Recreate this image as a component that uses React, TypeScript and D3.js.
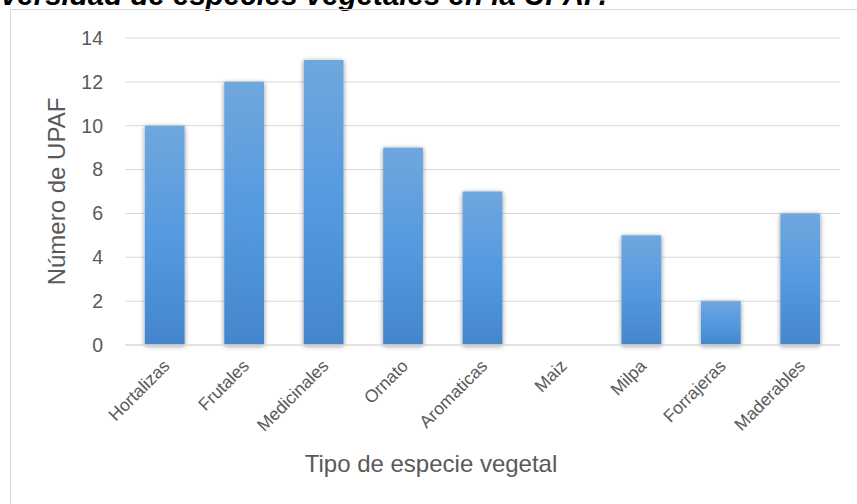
import React from "react";
import * as d3 from "d3";

const categories = ["Hortalizas", "Frutales", "Medicinales", "Ornato", "Aromaticas", "Maiz", "Milpa", "Forrajeras", "Maderables"];
const values = [10, 12, 13, 9, 7, 0, 5, 2, 6];
const yTicks = [0, 2, 4, 6, 8, 10, 12, 14];

const W = 857, H = 504;
const m = { left: 125, right: 17, top: 38, bottom: 159 };

export default function App() {
  const x = d3.scaleBand<string>().domain(categories).range([m.left, W - m.right]).paddingInner(0.5).paddingOuter(0.25);
  const y = d3.scaleLinear().domain([0, 14]).range([H - m.bottom, m.top]);
  const font = "Arial, 'Liberation Sans', sans-serif";
  return (
    <svg width={W} height={H} style={{ position: "absolute", left: 0, top: 0 }} fontFamily={font}>
      <defs>
        <linearGradient id="bg" x1="0" y1="0" x2="0" y2="1">
          <stop offset="0" stopColor="#6fa7dd" />
          <stop offset="0.5" stopColor="#559ae0" />
          <stop offset="1" stopColor="#4486cb" />
        </linearGradient>
        <filter id="sh" x="-30%" y="-10%" width="160%" height="120%">
          <feGaussianBlur in="SourceAlpha" stdDeviation="2.5" />
          <feOffset dx="0" dy="1" result="b" />
          <feComponentTransfer><feFuncA type="linear" slope="0.45" /></feComponentTransfer>
          <feMerge><feMergeNode /><feMergeNode in="SourceGraphic" /></feMerge>
        </filter>
      </defs>
      <rect x={0} y={0} width={W} height={H} fill="#fff" />
      <text x={607} y={5} textAnchor="end" fontSize={29.5} fontWeight="bold" fontStyle="italic" fill="#000">Diversidad de especies vegetales en la UPAF.</text>
      <rect x={10.5} y={9.5} width={900} height={600} fill="none" stroke="#d9d9d9" />
      {yTicks.map(t => (
        <g key={t}>
          {t > 0 && <line x1={m.left} x2={W - m.right} y1={y(t)} y2={y(t)} stroke="#d9d9d9" strokeWidth={1} />}
          <text x={103} y={y(t)} dy="0.35em" textAnchor="end" fontSize={19.5} fill="#595959">{t}</text>
        </g>
      ))}
      {categories.map((c, i) => values[i] > 0 && (
        <rect key={c} x={x(c)} y={y(values[i])} width={x.bandwidth()} height={y(0) - y(values[i])} fill="url(#bg)" filter="url(#sh)" />
      ))}
      <line x1={m.left} x2={W - m.right} y1={y(0)} y2={y(0)} stroke="#d9d9d9" strokeWidth={1.5} />
      {categories.map(c => {
        const cx = (x(c) as number) + x.bandwidth() / 2 + 6;
        return (
          <text key={c} transform={`translate(${cx},${y(0) + 22}) rotate(-45)`} textAnchor="end" fontSize={17.5} fill="#595959">{c}</text>
        );
      })}
      <text transform={`translate(65,${(y(0) + y(14)) / 2}) rotate(-90)`} textAnchor="middle" fontSize={24} fill="#595959">Número de UPAF</text>
      <text x={431} y={472} textAnchor="middle" fontSize={24} fill="#595959">Tipo de especie vegetal</text>
    </svg>
  );
}
